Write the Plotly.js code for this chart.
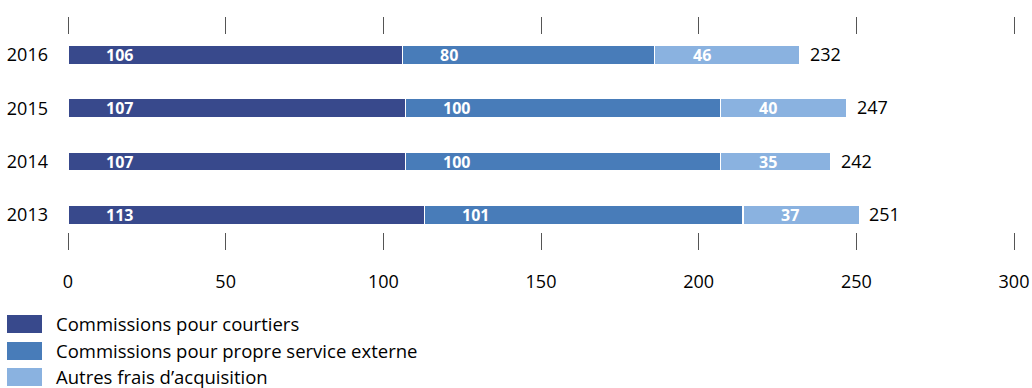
<!DOCTYPE html>
<html>
<head>
<meta charset="utf-8">
<script src="https://cdn.plot.ly/plotly-3.0.1.min.js"></script>
<style>html,body{margin:0;padding:0;background:#fff;}#chart{width:1032px;height:388px;}</style>
</head>
<body>
<div id="chart"></div>
<script>
// Data (bottom to top)
var years = ['2013', '2014', '2015', '2016'];
var seriesNames = ['Commissions pour courtiers', 'Commissions pour propre service externe', 'Autres frais d\u2019acquisition'];
var courtiers = [113, 107, 107, 106];
var serviceExterne = [101, 100, 100, 80];
var autresFrais = [37, 35, 40, 46];
var totals = [251, 242, 247, 232];
var xTickVals = [0, 50, 100, 150, 200, 250, 300];

var colors = ['#38498c', '#487cb9', '#8ab2e0'];
var FONT = 'Open Sans, Noto Sans, sans-serif';
var W = 1032, H = 388;
var mL = 68, mR = 18, mT = 35, mB = 156;
var plotH = H - mT - mB;

var seriesVals = [courtiers, serviceExterne, autresFrais];
var traces = seriesVals.map(function (vals, i) {
  return {
    type: 'bar', orientation: 'h', y: years, x: vals, name: seriesNames[i],
    marker: {color: colors[i], line: {color: '#ffffff', width: 1.5}},
    width: 0.36, hoverinfo: 'x+name', showlegend: false
  };
});

var annotations = [];
// segment labels: left edge ~39px after segment start
years.forEach(function (yr, j) {
  var base = 0;
  seriesVals.forEach(function (vals, i) {
    annotations.push({
      x: base, y: j, xref: 'x', yref: 'y', text: '<b>' + vals[j] + '</b>',
      showarrow: false, xanchor: 'left', yanchor: 'middle', xshift: 36,
      font: {family: FONT, size: 16, color: '#ffffff'}
    });
    base += vals[j];
  });
  annotations.push({
    x: totals[j], y: j, xref: 'x', yref: 'y', text: String(totals[j]),
    showarrow: false, xanchor: 'left', yanchor: 'middle', xshift: 8, yshift: 1,
    font: {family: FONT, size: 18, color: '#000000'}
  });
});

// manual legend below the plot
var shapes = [];
function py2paper(py) { return (H - mB - py) / plotH; }
var legRows = [324, 351, 377];
seriesNames.forEach(function (nm, i) {
  shapes.push({
    type: 'rect', xref: 'paper', yref: 'paper',
    x0: (7 - mL) / (W - mL - mR), x1: (42 - mL) / (W - mL - mR),
    y0: py2paper(legRows[i] + 9), y1: py2paper(legRows[i] - 9),
    fillcolor: colors[i], line: {width: 0}
  });
  annotations.push({
    xref: 'paper', yref: 'paper', x: (54 - mL) / (W - mL - mR), y: py2paper(legRows[i] - 1),
    text: nm, showarrow: false, xanchor: 'left', yanchor: 'middle',
    font: {family: FONT, size: 18.5, color: '#000000'}
  });
});

var layout = {
  width: W, height: H,
  margin: {l: mL, r: mR, t: mT, b: mB, pad: 0},
  paper_bgcolor: '#ffffff', plot_bgcolor: '#ffffff',
  barmode: 'stack',
  showlegend: false,
  font: {family: FONT, size: 18, color: '#000000'},
  xaxis: {
    range: [0, 300], tickvals: xTickVals, ticktext: xTickVals.map(String),
    ticks: 'outside', ticklen: 17, tickwidth: 1, tickcolor: '#555555',
    mirror: 'ticks', showline: false, showgrid: false, zeroline: false,
    ticklabelstandoff: 16, tickfont: {family: FONT, size: 18, color: '#000000'},
    fixedrange: true
  },
  yaxis: {
    type: 'category', categoryorder: 'array', categoryarray: years,
    range: [-0.32, 3.375], ticks: '', showline: false, showgrid: false, zeroline: false,
    ticklabelstandoff: 19, tickfont: {family: FONT, size: 18, color: '#000000'},
    fixedrange: true
  },
  annotations: annotations,
  shapes: shapes
};

Plotly.newPlot('chart', traces, layout, {displayModeBar: false, staticPlot: true});
</script>
</body>
</html>
